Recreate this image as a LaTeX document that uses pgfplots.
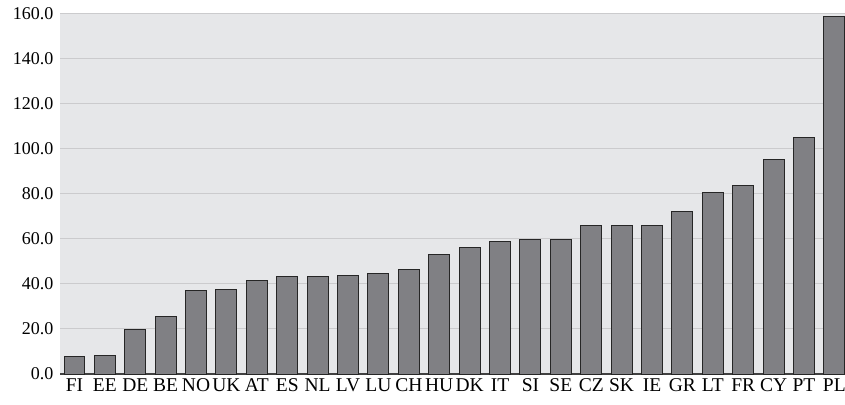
\documentclass[border=0pt]{standalone}
\usepackage{pgfplots}
\pgfplotsset{compat=1.18}
\usepackage{fontspec}
\setmainfont{Liberation Serif}
\definecolor{bgcol}{HTML}{E6E7E9}
\definecolor{gridcol}{HTML}{CBCBCD}
\definecolor{barcol}{HTML}{808084}
\begin{document}
\begin{tikzpicture}
\begin{axis}[
  scale only axis,
  width=785pt, height=360pt,
  xmin=-0.477, xmax=25.35,
  ymin=0, ymax=160,
  ytick={0,20,...,160},
  xtick={0,...,25},
  xticklabels={FI,EE,DE,BE,NO,UK,AT,ES,NL,LV,LU,CH,HU,DK,IT,SI,SE,CZ,SK,IE,GR,LT,FR,CY,PT,PL},
  ymajorgrids,
  grid style={gridcol, line width=1pt},
  major tick length=0pt,
  axis background/.style={fill=bgcol},
  axis x line*=bottom,
  axis y line*=left,
  y axis line style={draw=none},
  x axis line style={draw=black!75, line width=1.2pt, -},
  /pgf/number format/assume math mode=true,
  yticklabel={\pgfmathprintnumber[fixed,fixed zerofill,precision=1]{\tick}},
  yticklabel style={font=\fontsize{18}{20}\selectfont, xshift=-3pt},
  xticklabel style={font=\fontsize{19.5}{22}\selectfont, yshift=-1pt},
  clip=false,
]
\addplot[ybar, bar width=0.69, fill=barcol, draw=black!85, line width=1pt, bar shift=0pt]
coordinates {
(0,8.0) (1,8.3) (2,19.6) (3,25.4) (4,37.0) (5,37.4) (6,41.7) (7,43.2)
(8,43.5) (9,43.9) (10,44.7) (11,46.5) (12,52.9) (13,56.1) (14,59.1)
(15,59.7) (16,59.8) (17,65.9) (18,65.9) (19,66.2) (20,72.0) (21,80.7)
(22,83.8) (23,95.5) (24,105.3) (25,158.9)
};
\end{axis}
\pgfresetboundingbox
\path (current axis.south west) ++(-60pt,-30pt) coordinate (bl);
\path (current axis.north east) ++(0pt,14pt) coordinate (tr);
\useasboundingbox (bl) rectangle (tr);
\end{tikzpicture}
\end{document}
